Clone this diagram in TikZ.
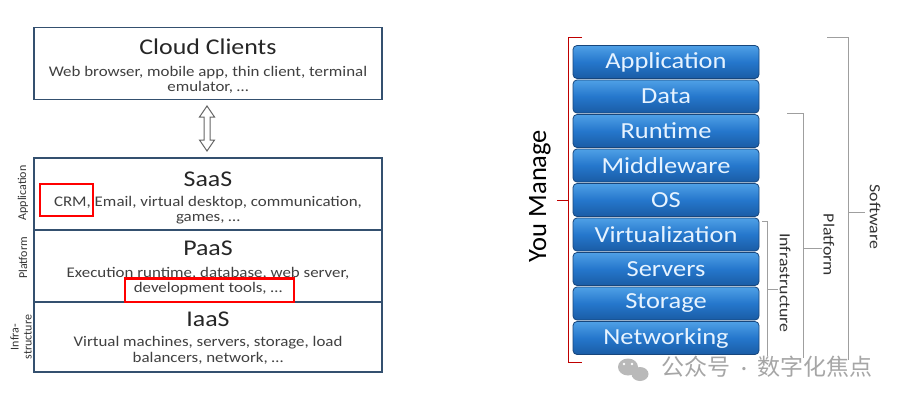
\documentclass[tikz,border=0pt]{standalone}
\usepackage{fontspec}
\setmainfont{Carlito}
\newfontfamily\wide{Carlito}[FakeStretch=1.15]
\newfontfamily\cjk{Noto Sans CJK SC}
\begin{document}
\begin{tikzpicture}[x=1pt,y=-1pt,
  layerbox/.style={draw=boxblue,line width=1.6pt,minimum width=348pt,inner sep=0pt},
  ttl/.style={font=\wide\fontsize{22.5}{24}\selectfont,text=black!85,inner sep=0pt},
  desc/.style={font=\wide\fontsize{14.7}{15.5}\selectfont,text=black!75,align=center,inner sep=0pt},
  side/.style={font=\fontsize{12}{12}\selectfont,text=black!80,rotate=90,align=center,inner sep=0pt},
  bar/.style={rounded corners=4pt,draw=bardark,line width=0.8pt,top color=bartop,bottom color=barbot,middle color=barmid,
     minimum width=186pt,minimum height=33pt,inner sep=0pt,text=bartext,font=\wide\fontsize{23}{24}\selectfont},
  brk/.style={draw=gray!75,line width=0.9pt},
  brklbl/.style={font=\wide\fontsize{15.5}{16}\selectfont,text=black!80,rotate=-90,inner sep=0pt},
  redbox/.style={draw=red,line width=2.8pt}
]
\definecolor{boxblue}{HTML}{34506F}
\definecolor{bartop}{HTML}{4FA0E6}
\definecolor{barmid}{HTML}{2577CC}
\definecolor{barbot}{HTML}{1A5CA5}
\definecolor{bardark}{HTML}{17467C}
\definecolor{bartext}{HTML}{E6F3FF}
\useasboundingbox (0,0) rectangle (908,404);
\fill[white] (0,0) rectangle (908,404);

% ---------- left diagram ----------
\node[layerbox,minimum height=72pt] (cloud) at (208,63.5) {};
\node[ttl] (cloudt) at (208,47) {Cloud Clients};
\node[desc] (cloudd) at (208,80) {Web browser, mobile app, thin client, terminal\\emulator, \dots};

\node[layerbox,minimum height=72pt] (saas) at (208,194) {};
\node[layerbox,minimum height=72pt] (paas) at (208,266) {};
\node[layerbox,minimum height=70pt] (iaas) at (208,337) {};

\node[ttl] (saast) at (208,179) {SaaS};
\node[desc] (saasd) at (208,210) {CRM, Email, virtual desktop, communication,\\games, \dots};
\node[ttl] (paast) at (208,248.5) {PaaS};
\node[desc] (paasd) at (208,281) {Execution runtime, database, web server,\\development tools, \dots};
\node[ttl] (iaast) at (208,319.5) {IaaS};
\node[desc] (iaasd) at (208,350.5) {Virtual machines, servers, storage, load\\balancers, network, \dots};

\node[side] (sa) at (23,193) {Application};
\node[side] (sp) at (23,258) {Platform};
\node[side,font=\fontsize{12}{13}\selectfont] (si) at (21,337) {Infra-\\structure};

% double arrow
\draw[gray!80!black,line width=1pt,fill=white,line join=miter]
  (207,106) -- (214.5,117) -- (210,117) -- (210,140) -- (214.5,140) -- (207,151)
  -- (199.5,140) -- (204,140) -- (204,117) -- (199.5,117) -- cycle;

% red highlight boxes
\draw[redbox] (40,184) rectangle (93,216);
\draw[redbox] (125,278.5) rectangle (294,302);

% ---------- right diagram ----------
\node[bar] (b1) at (666,62) {Application};
\node[bar] (b2) at (666,96.5) {Data};
\node[bar] (b3) at (666,131) {Runtime};
\node[bar] (b4) at (666,165.5) {Middleware};
\node[bar] (b5) at (666,200) {OS};
\node[bar] (b6) at (666,234.5) {Virtualization};
\node[bar] (b7) at (666,269) {Servers};
\node[bar] (b8) at (666,303.5) {Storage};
\node[bar] (b9) at (666,338) {Networking};

% You manage bracket (red)
\draw[draw=red!75!black,line width=0.9pt] (582,37) -- (568,37) -- (568,362) -- (582,362);
\draw[draw=red!75!black,line width=0.9pt] (568,200) -- (557,200);
\node[font=\fontsize{26.5}{27}\selectfont,rotate=90,inner sep=0pt] (you) at (540,196) {You Manage};

% infrastructure bracket
\draw[brk] (762,221) -- (767,221) -- (767,356);
\draw[brk] (767,289) -- (778,289);
\node[brklbl] (infl) at (785,283) {Infrastructure};

% platform bracket
\draw[brk] (787,113) -- (803,113) -- (803,358);
\draw[brk] (803,248) -- (822,248);
\node[brklbl] (platl) at (829,245) {Platform};

% software bracket
\draw[brk] (827,37) -- (848,37) -- (848,360);
\draw[brk] (848,212) -- (865,212);
\node[brklbl] (softl) at (875,217) {Software};

% watermark
\fill[gray!55] (628,367) ellipse (10pt and 8.5pt);
\fill[gray!55] (640,374) ellipse (8.5pt and 7pt);
\fill[white] (624,364) circle (1.4pt) (632,364) circle (1.4pt);
\node[font=\cjk\fontsize{23}{25}\selectfont,text=gray!70,inner sep=0pt] (wm) at (767,367) {公众号\hspace{11pt}{\rmfamily ·}\hspace{11pt}数字化焦点};
\end{tikzpicture}
\end{document}
